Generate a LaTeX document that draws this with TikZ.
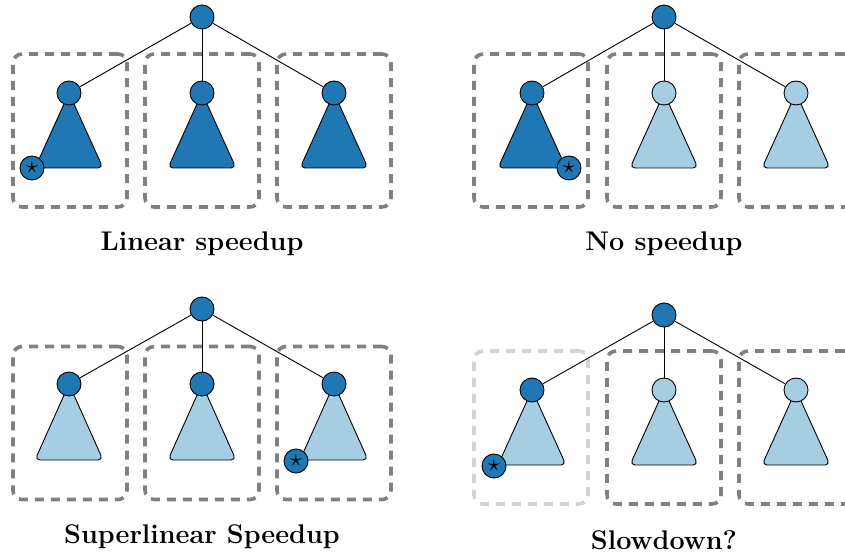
\documentclass[tikz,border=0pt]{standalone}
\definecolor{tabblue}{RGB}{31,119,180}
\definecolor{lightblue}{RGB}{166,206,227}
\definecolor{boxgray}{RGB}{128,128,128}
\definecolor{boxlight}{RGB}{211,211,211}
\begin{document}
\begin{tikzpicture}[x=1pt,y=-1pt,
  dk/.style={circle,draw=black,line width=0.9pt,fill=tabblue,minimum size=24pt,inner sep=0pt},
  lt/.style={dk,fill=lightblue},
  boxn/.style={draw=boxgray,line width=3.6pt,dash pattern=on 9pt off 7pt,rounded corners=9pt,minimum width=114pt,minimum height=153pt,inner sep=0pt},
  boxfaint/.style={boxn,draw=boxlight},
  edge/.style={line width=0.9pt},
  tri/.style={draw=black,line width=0.9pt,rounded corners=5pt},
  starn/.style={dk,font=\fontsize{32}{36}\selectfont},
  title/.style={font=\bfseries\fontsize{27}{31}\selectfont,anchor=base}]
\useasboundingbox (0,0) rectangle (845,553);
\clip (0,0) rectangle (845,553);

% ---------- Top left: Linear speedup ----------
\begin{scope}[shift={(202,17)}]
  \node[boxn] (tlb1) at (-132,113.5) {};
  \node[boxn] (tlb2) at (0,113.5) {};
  \node[boxn] (tlb3) at (132,113.5) {};
  \filldraw[tri,fill=tabblue] (-133,76) -- (-99,151) -- (-167,151) -- cycle;
  \filldraw[tri,fill=tabblue] (0,76) -- (34,151) -- (-34,151) -- cycle;
  \filldraw[tri,fill=tabblue] (132,76) -- (166,151) -- (98,151) -- cycle;
  \node[dk] (tlr) at (0,0) {};
  \node[dk] (tlc1) at (-133,76) {};
  \node[dk] (tlc2) at (0,76) {};
  \node[dk] (tlc3) at (132,76) {};
  \draw[edge] (tlr) -- (tlc1);
  \draw[edge] (tlr) -- (tlc2);
  \draw[edge] (tlr) -- (tlc3);
  \node[starn] (tls) at (-170,151) {$\star$};
  \node[title] (tlt) at (0,234) {Linear speedup};
\end{scope}

% ---------- Top right: No speedup ----------
\begin{scope}[shift={(664,17)}]
  \node[boxn] (trb1) at (-133,113.5) {};
  \node[boxn] (trb2) at (0,113.5) {};
  \node[boxn] (trb3) at (132,113.5) {};
  \filldraw[tri,fill=tabblue] (-132,76) -- (-98,151) -- (-166,151) -- cycle;
  \filldraw[tri,fill=lightblue] (0,76) -- (34,151) -- (-34,151) -- cycle;
  \filldraw[tri,fill=lightblue] (132,76) -- (166,151) -- (98,151) -- cycle;
  \node[dk] (trr) at (0,0) {};
  \node[dk] (trc1) at (-132,76) {};
  \node[lt] (trc2) at (0,76) {};
  \node[lt] (trc3) at (132,76) {};
  \draw[edge] (trr) -- (trc1);
  \draw[edge] (trr) -- (trc2);
  \draw[edge] (trr) -- (trc3);
  \node[starn] (trs) at (-95,151) {$\star$};
  \node[title] (trt) at (0,234) {No speedup};
\end{scope}

% ---------- Bottom left: Superlinear Speedup ----------
\begin{scope}[shift={(202,309)}]
  \node[boxn] (blb1) at (-132,114) {};
  \node[boxn] (blb2) at (0,114) {};
  \node[boxn] (blb3) at (132,114) {};
  \filldraw[tri,fill=lightblue] (-133,75) -- (-99,151) -- (-167,151) -- cycle;
  \filldraw[tri,fill=lightblue] (0,75) -- (34,151) -- (-34,151) -- cycle;
  \filldraw[tri,fill=lightblue] (132,75) -- (166,151) -- (98,151) -- cycle;
  \node[dk] (blr) at (0,0) {};
  \node[dk] (blc1) at (-133,75) {};
  \node[dk] (blc2) at (0,75) {};
  \node[dk] (blc3) at (132,75) {};
  \draw[edge] (blr) -- (blc1);
  \draw[edge] (blr) -- (blc2);
  \draw[edge] (blr) -- (blc3);
  \node[starn] (bls) at (94,152) {$\star$};
  \node[title] (blt) at (0,234) {Superlinear Speedup};
\end{scope}

% ---------- Bottom right: Slowdown? ----------
\begin{scope}[shift={(664,315)}]
  \node[boxfaint] (brb1) at (-133,112.5) {};
  \node[boxn] (brb2) at (0,112.5) {};
  \node[boxn] (brb3) at (132,112.5) {};
  \filldraw[tri,fill=lightblue] (-132,75) -- (-98,150) -- (-166,150) -- cycle;
  \filldraw[tri,fill=lightblue] (0,75) -- (34,150) -- (-34,150) -- cycle;
  \filldraw[tri,fill=lightblue] (132,75) -- (166,150) -- (98,150) -- cycle;
  \node[dk] (brr) at (0,0) {};
  \node[dk] (brc1) at (-132,75) {};
  \node[lt] (brc2) at (0,75) {};
  \node[lt] (brc3) at (132,75) {};
  \draw[edge] (brr) -- (brc1);
  \draw[edge] (brr) -- (brc2);
  \draw[edge] (brr) -- (brc3);
  \node[starn] (brs) at (-170,151) {$\star$};
  \node[title] (brt) at (0,234) {Slowdown?};
\end{scope}
\end{tikzpicture}
\end{document}
